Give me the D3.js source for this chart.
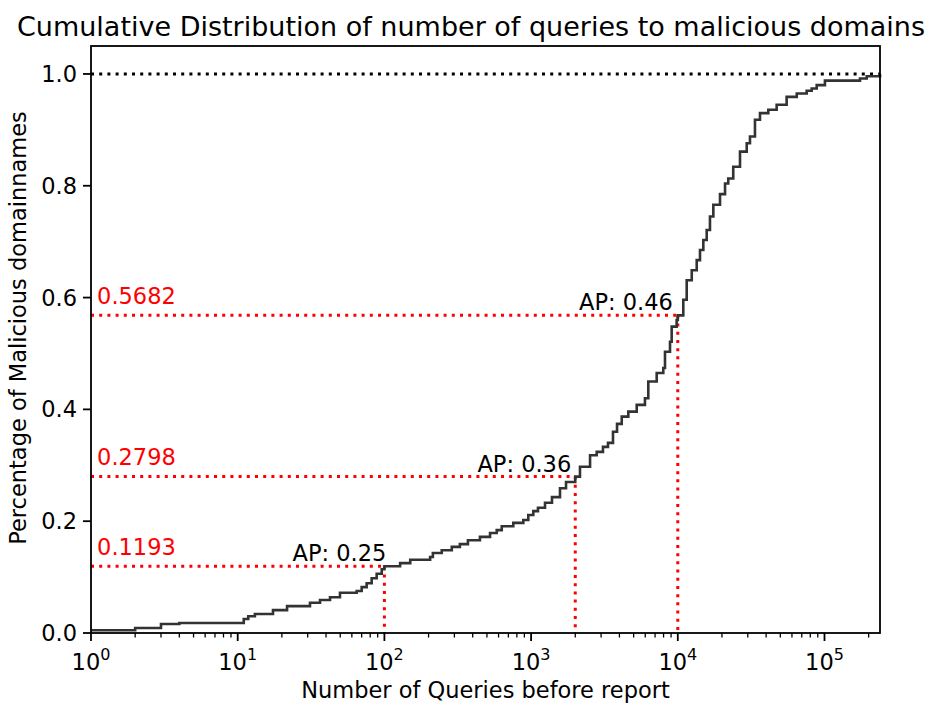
<!DOCTYPE html>
<html>
<head>
<meta charset="utf-8">
<script src="https://cdn.jsdelivr.net/npm/d3@7"></script>
<style>
  body { margin: 0; background: #fff; }
  text { font-family: "DejaVu Sans", sans-serif; }
</style>
</head>
<body>
<div id="chart-area"></div>
<script>
// step points of the CDF: number of queries, cumulative share
const queries = [1, 2, 3, 4, 11, 11.8, 13.1, 17.4, 21.7, 31.1, 36.4, 42.6, 49.8, 64.7, 70, 75.7, 81.9, 88.6, 95.9,
  100, 128, 150, 205, 214, 246, 288, 327, 371, 448, 525, 583, 631, 756, 885, 957, 1035, 1114, 1244, 1388,
  1574, 1730, 2000, 2154, 2523, 2800, 3090, 3343, 3616, 3853, 4148, 4600, 5248, 5972, 6295, 7181, 7964, 8180,
  8850, 9085, 9820, 10000, 10900, 11500, 12450, 13460, 14170, 14930, 15740, 16570, 17470, 19400, 20990, 22080,
  23880, 26550, 29500, 31050, 33580, 36330, 41400, 47200, 55200, 64700, 75600, 81800, 88500, 100700, 174600,
  194000, 239000]
const cumulative = [0.005, 0.009, 0.016, 0.018, 0.025, 0.030, 0.034, 0.041, 0.048, 0.054, 0.059, 0.064, 0.072,
  0.075, 0.082, 0.089, 0.098, 0.106, 0.114, 0.1193, 0.125, 0.131, 0.136, 0.143, 0.148, 0.154, 0.159, 0.166,
  0.172, 0.179, 0.184, 0.191, 0.197, 0.202, 0.211, 0.218, 0.224, 0.233, 0.243, 0.259, 0.270, 0.2798, 0.2975,
  0.318, 0.324, 0.333, 0.340, 0.360, 0.374, 0.387, 0.396, 0.408, 0.420, 0.450, 0.465, 0.474, 0.503, 0.521,
  0.548, 0.560, 0.5682, 0.596, 0.631, 0.649, 0.667, 0.685, 0.703, 0.721, 0.745, 0.766, 0.785, 0.804, 0.813,
  0.834, 0.861, 0.876, 0.888, 0.918, 0.930, 0.936, 0.945, 0.959, 0.965, 0.970, 0.974, 0.980, 0.988, 0.992,
  0.996, 1.0]

// marked thresholds
const markQueries = [100, 2000, 10000]
const markValues = [0.1193, 0.2798, 0.5682]
const markLabels = ["AP: 0.25", "AP: 0.36", "AP: 0.46"]

const yTicks = [0, 0.2, 0.4, 0.6, 0.8, 1.0]
const xTicks = [1, 10, 100, 1000, 10000, 100000]

const w = 930
const h = 704
const plotLeft = 91, plotRight = 880, plotTop = 46, plotBottom = 633
const fs = "22.5px"

const svg = d3.select("#chart-area")
  .append("svg")
  .attr("width", w)
  .attr("height", h)

const x = d3.scaleLog()
  .domain([1, 239000])
  .range([plotLeft, plotRight])

const y = d3.scaleLinear()
  .domain([0, 1.05])
  .range([plotBottom, plotTop])

const data = queries.map((q, i) => [q, cumulative[i]])

// reference line at 1.0
svg.append("line")
  .attr("x1", plotLeft).attr("x2", plotRight)
  .attr("y1", y(1)).attr("y2", y(1))
  .attr("stroke", "#000")
  .attr("stroke-width", 3)
  .attr("stroke-dasharray", "3,5.2")

// red guides
markQueries.forEach((q, i) => {
  svg.append("line")
    .attr("x1", plotLeft).attr("x2", x(q))
    .attr("y1", y(markValues[i])).attr("y2", y(markValues[i]))
    .attr("stroke", "red")
    .attr("stroke-width", 3)
    .attr("stroke-dasharray", "3,5.2")
  svg.append("line")
    .attr("x1", x(q)).attr("x2", x(q))
    .attr("y1", y(markValues[i])).attr("y2", plotBottom)
    .attr("stroke", "red")
    .attr("stroke-width", 3)
    .attr("stroke-dasharray", "3,5.2")
})

// cdf curve
svg.append("path")
  .datum(data)
  .attr("fill", "none")
  .attr("stroke", "#333333")
  .attr("stroke-width", 2.6)
  .attr("d", d3.line()
    .x(d => x(d[0]))
    .y(d => y(d[1]))
    .curve(d3.curveStepAfter))

// value labels and AP labels
const apShift = [2, -4, -5]
markQueries.forEach((q, i) => {
  svg.append("text")
    .attr("x", x(1.1))
    .attr("y", y(markValues[i] + 0.02))
    .attr("fill", "red")
    .style("font-size", fs)
    .text(markValues[i].toFixed(4))
  svg.append("text")
    .attr("x", x(q) + apShift[i])
    .attr("y", y(markValues[i]) - 5)
    .attr("text-anchor", "end")
    .attr("fill", "#000")
    .style("font-size", fs)
    .text(markLabels[i])
})

// frame
svg.append("rect")
  .attr("x", plotLeft).attr("y", plotTop)
  .attr("width", plotRight - plotLeft).attr("height", plotBottom - plotTop)
  .attr("fill", "none")
  .attr("stroke", "#000")
  .attr("stroke-width", 1.8)

// y axis
const yAxis = svg.append("g")
yAxis.selectAll("line")
  .data(yTicks)
  .enter()
  .append("line")
  .attr("x1", plotLeft - 8).attr("x2", plotLeft)
  .attr("y1", d => y(d)).attr("y2", d => y(d))
  .attr("stroke", "#000")
  .attr("stroke-width", 1.8)
yAxis.selectAll("text")
  .data(yTicks)
  .enter()
  .append("text")
  .attr("x", plotLeft - 14)
  .attr("y", d => y(d))
  .attr("dy", "0.36em")
  .attr("text-anchor", "end")
  .style("font-size", fs)
  .text(d => d3.format(".1f")(d))

// x axis, major and minor ticks
const minor = []
for (let p = 0; p <= 5; p++) {
  for (let m = 2; m <= 9; m++) {
    const v = m * Math.pow(10, p)
    if (v < 239000) minor.push(v)
  }
}
const xAxis = svg.append("g")
xAxis.selectAll(".minor")
  .data(minor)
  .enter()
  .append("line")
  .attr("class", "minor")
  .attr("x1", d => x(d)).attr("x2", d => x(d))
  .attr("y1", plotBottom).attr("y2", plotBottom + 4.5)
  .attr("stroke", "#000")
  .attr("stroke-width", 1.3)
xAxis.selectAll(".major")
  .data(xTicks)
  .enter()
  .append("line")
  .attr("class", "major")
  .attr("x1", d => x(d)).attr("x2", d => x(d))
  .attr("y1", plotBottom).attr("y2", plotBottom + 8)
  .attr("stroke", "#000")
  .attr("stroke-width", 1.8)
const xLabels = xAxis.selectAll("text")
  .data(xTicks)
  .enter()
  .append("text")
  .attr("x", d => x(d))
  .attr("y", plotBottom + 37)
  .attr("text-anchor", "middle")
  .style("font-size", fs)
xLabels.append("tspan").text("10")
xLabels.append("tspan")
  .attr("dy", -10)
  .style("font-size", "16px")
  .text(d => Math.round(Math.log10(d)))

// titles
svg.append("text")
  .attr("x", 471)
  .attr("y", 36)
  .attr("text-anchor", "middle")
  .style("font-size", "27px")
  .text("Cumulative Distribution of number of queries to malicious domains")

svg.append("text")
  .attr("x", (plotLeft + plotRight) / 2)
  .attr("y", 698)
  .attr("text-anchor", "middle")
  .style("font-size", fs)
  .text("Number of Queries before report")

svg.append("text")
  .attr("transform", "translate(26,328) rotate(-90)")
  .attr("text-anchor", "middle")
  .style("font-size", fs)
  .text("Percentage of Malicious domainnames")
</script>
</body>
</html>
